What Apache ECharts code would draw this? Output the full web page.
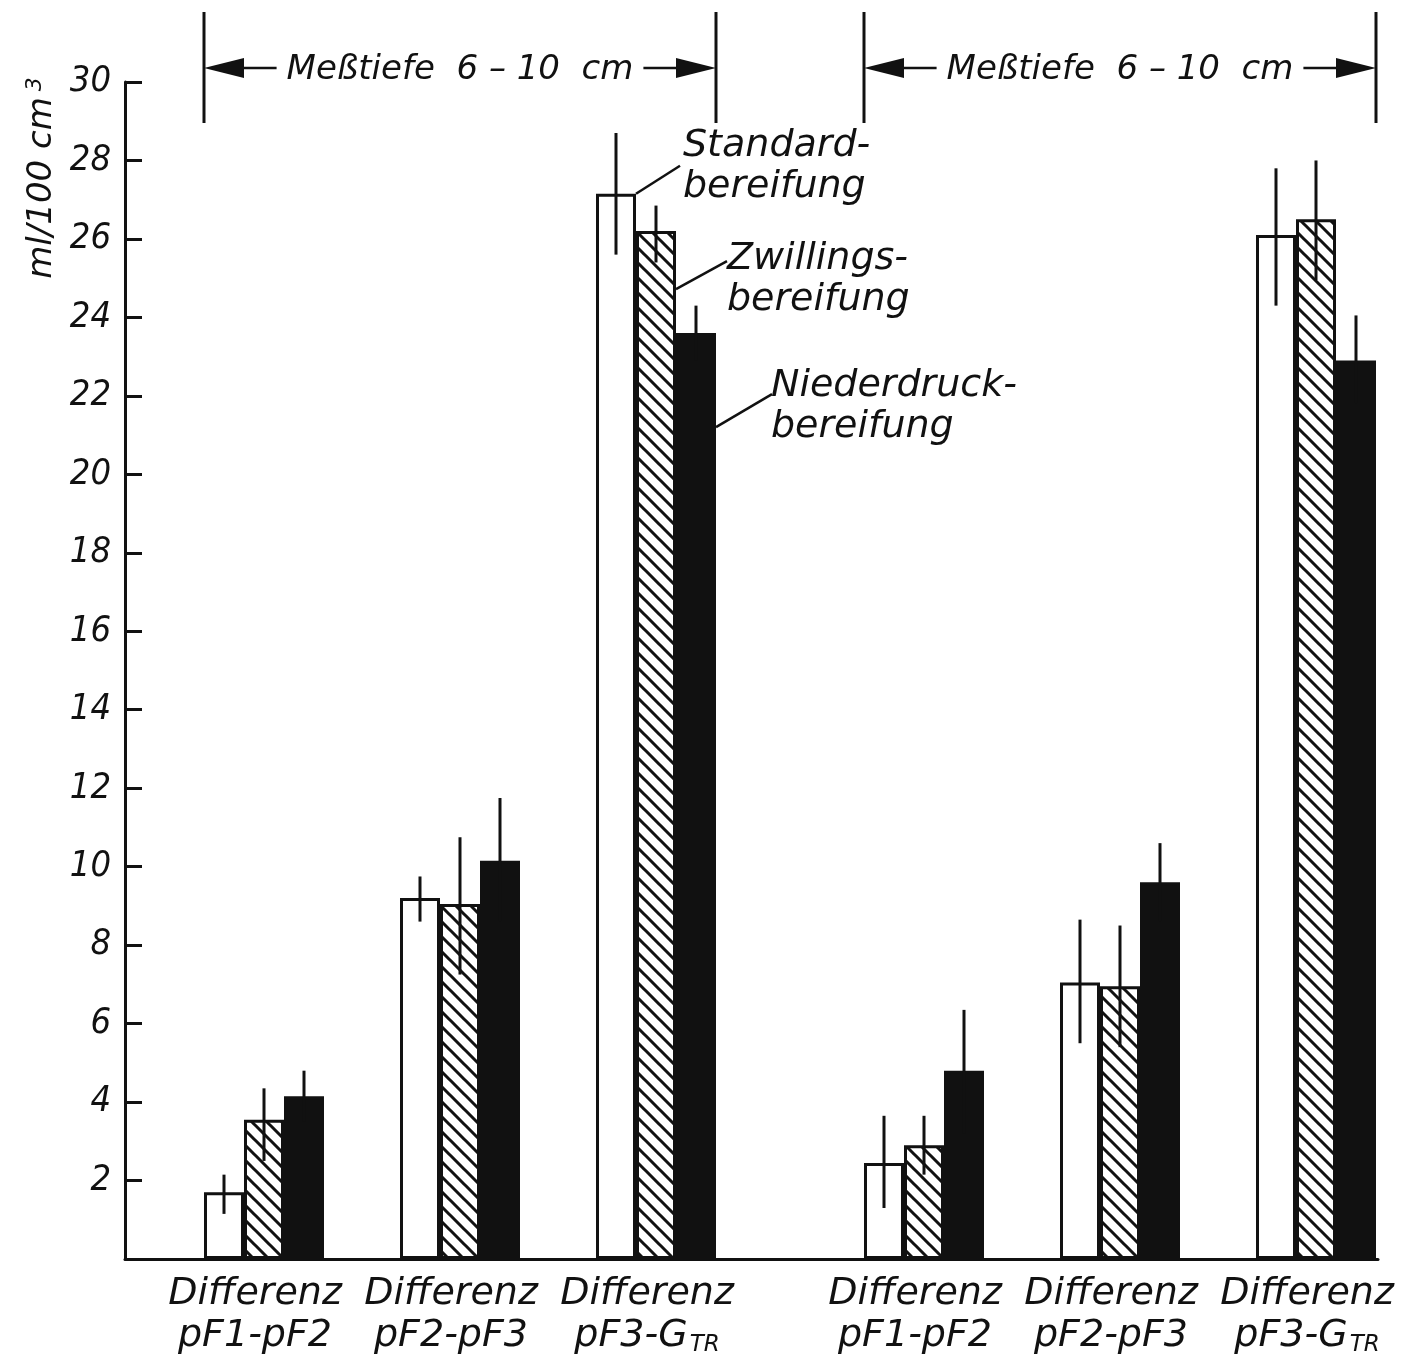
<!DOCTYPE html>
<html><head><meta charset="utf-8">
<script src="https://cdn.jsdelivr.net/npm/echarts@6/dist/echarts.min.js"></script>
<style>html,body{margin:0;padding:0;background:#fff}#c{width:1426px;height:1367px}</style>
</head><body><div id="c"></div>
<script>
// ---------- data ----------
const categories = ['Differenz\npF1-pF2', 'Differenz\npF2-pF3', 'Differenz\n{a|pF3-G}{s|TR}'];
const seriesNames = ['Standardbereifung', 'Zwillingsbereifung', 'Niederdruckbereifung'];
const panelTitle = 'Meßtiefe  6 – 10  cm';
const yAxisName = 'ml/100 cm{s|3}';
const legendLabels = ['Standard-\nbereifung', 'Zwillings-\nbereifung', 'Niederdruck-\nbereifung'];
const yMin = 0, yMax = 30, yStep = 2;

// left panel (mean values)
const leftStandard = [1.7, 9.2, 27.15];
const leftZwillings = [3.55, 9.05, 26.2];
const leftNiederdruck = [4.15, 10.15, 23.6];
// left panel error ranges [low, high]
const leftStandardErr = [[1.15, 2.15], [8.6, 9.75], [25.6, 28.7]];
const leftZwillingsErr = [[2.5, 4.35], [7.25, 10.75], [25.4, 26.85]];
const leftNiederdruckErr = [[3.5, 4.8], [8.6, 11.75], [22.9, 24.3]];

// right panel (mean values)
const rightStandard = [2.45, 7.05, 26.1];
const rightZwillings = [2.9, 6.95, 26.5];
const rightNiederdruck = [4.8, 9.6, 22.9];
// right panel error ranges [low, high]
const rightStandardErr = [[1.3, 3.65], [5.5, 8.65], [24.3, 27.8]];
const rightZwillingsErr = [[2.15, 3.65], [5.4, 8.5], [24.95, 28.0]];
const rightNiederdruckErr = [[3.2, 6.35], [8.6, 10.6], [21.8, 24.05]];

// ---------- style ----------
const INK = '#111';
const FONT = "'DejaVu Sans', 'Liberation Sans', sans-serif";
const FONT_C = "'DejaVu Sans Condensed', 'DejaVu Sans', sans-serif";
const BAR_W = 40;

function hatchCanvas() {
  const s = 15;
  const c = document.createElement('canvas');
  c.width = s; c.height = s;
  const g = c.getContext('2d');
  g.fillStyle = '#fff'; g.fillRect(0, 0, s, s);
  g.strokeStyle = INK; g.lineWidth = 3;
  g.beginPath();
  for (let k = -1; k <= 1; k++) {
    g.moveTo(-2, -2 + k * s); g.lineTo(s + 2, s + 2 + k * s);
  }
  g.stroke();
  return c;
}
const hatch = hatchCanvas();

const barStyles = [
  { color: '#fff', borderColor: INK, borderWidth: 3 },
  { color: { image: hatch, repeat: 'repeat' }, borderColor: INK, borderWidth: 3 },
  { color: INK, borderColor: INK, borderWidth: 3 }
];

function barSeries(name, data, gridIdx, k) {
  return {
    type: 'bar', name, data, xAxisIndex: gridIdx, yAxisIndex: gridIdx,
    barWidth: BAR_W, barGap: '0%', itemStyle: barStyles[k], z: 2, silent: true
  };
}
function errData(errs) {
  const out = [];
  errs.forEach((e, k) => e.forEach((r, i) => out.push([i, k, r[0], r[1]])));
  return out;
}
function errSeries(errs, gridIdx) {
  return {
    type: 'custom', xAxisIndex: gridIdx, yAxisIndex: gridIdx, z: 5, silent: true,
    data: errData(errs),
    encode: { x: 0, y: [2, 3] },
    renderItem(params, api) {
      const cat = api.value(0), k = api.value(1);
      const lo = api.coord([cat, api.value(2)]);
      const hi = api.coord([cat, api.value(3)]);
      const x = lo[0] + (k - 1) * BAR_W;
      return { type: 'line', shape: { x1: x, y1: lo[1], x2: x, y2: hi[1] },
               style: { stroke: INK, lineWidth: 3 } };
    }
  };
}

const catLabel = {
  interval: 0, color: INK, fontFamily: FONT, fontStyle: 'italic', fontSize: 38,
  lineHeight: 42, margin: 14, padding: [0, 18, 0, 0],
  rich: {
    a: { color: INK, fontFamily: FONT, fontStyle: 'italic', fontSize: 38, lineHeight: 42 },
    s: { color: INK, fontFamily: FONT, fontStyle: 'italic', fontSize: 23, lineHeight: 22,
         verticalAlign: 'bottom', padding: [0, 0, 0, 2] }
  }
};
function catAxis(gridIdx) {
  return { type: 'category', gridIndex: gridIdx, data: categories,
    axisLine: { show: false }, axisTick: { show: false }, axisLabel: catLabel,
    splitLine: { show: false } };
}
function hiddenY(gridIdx) {
  return { type: 'value', gridIndex: gridIdx, min: yMin, max: yMax, interval: yStep, show: false };
}

const chart = echarts.init(document.getElementById('c'), null, { renderer: 'canvas' });
chart.setOption({
  backgroundColor: '#fff',
  animation: false,
  grid: [
    { left: 166, top: 82, width: 588, bottom: 108 },
    { left: 826, top: 82, width: 588, bottom: 108 },
    { left: 125, top: 82, right: 48, bottom: 108 }
  ],
  xAxis: [
    catAxis(0), catAxis(1),
    { type: 'value', gridIndex: 2, min: 0, max: 1,
      axisLine: { show: true, lineStyle: { color: INK, width: 3 } },
      axisTick: { show: false }, axisLabel: { show: false }, splitLine: { show: false } }
  ],
  yAxis: [
    hiddenY(0), hiddenY(1),
    { type: 'value', gridIndex: 2, min: yMin, max: yMax, interval: yStep,
      axisLine: { show: true, lineStyle: { color: INK, width: 3 } },
      axisTick: { show: true, inside: true, length: 17, lineStyle: { color: INK, width: 3 } },
      splitLine: { show: false },
      axisLabel: { color: INK, fontFamily: FONT_C, fontStyle: 'italic', fontSize: 36, margin: 14,
        formatter: v => (v === 0 ? '' : String(v)) } }
  ],
  series: [
    barSeries(seriesNames[0], leftStandard, 0, 0),
    barSeries(seriesNames[1], leftZwillings, 0, 1),
    barSeries(seriesNames[2], leftNiederdruck, 0, 2),
    errSeries([leftStandardErr, leftZwillingsErr, leftNiederdruckErr], 0),
    barSeries(seriesNames[0], rightStandard, 1, 0),
    barSeries(seriesNames[1], rightZwillings, 1, 1),
    barSeries(seriesNames[2], rightNiederdruck, 1, 2),
    errSeries([rightStandardErr, rightZwillingsErr, rightNiederdruckErr], 1)
  ]
});

// ---------- annotations (anchored to axis scales) ----------
function measure(text, font) {
  const g = document.createElement('canvas').getContext('2d');
  g.font = font; return g.measureText(text).width;
}
const titleFont = 'italic 34px ' + FONT;
const titleW = measure(panelTitle, titleFont);
const graphics = [];
const Y_ARROW = 68, Y_TOP = 12, Y_BOT = 123;
[0, 1].forEach(gi => {
  const c0 = chart.convertToPixel({ xAxisIndex: gi }, 0);
  const c2 = chart.convertToPixel({ xAxisIndex: gi }, 2);
  const x0 = c0 - 1.5 * BAR_W, x1 = c2 + 1.5 * BAR_W;
  const mid = (x0 + x1) / 2;
  const tl = mid - titleW / 2 - 10, tr = mid + titleW / 2 + 10;
  graphics.push(
    { type: 'line', shape: { x1: x0, y1: Y_TOP, x2: x0, y2: Y_BOT }, style: { stroke: INK, lineWidth: 3 } },
    { type: 'line', shape: { x1: x1, y1: Y_TOP, x2: x1, y2: Y_BOT }, style: { stroke: INK, lineWidth: 3 } },
    { type: 'polygon', shape: { points: [[x0, Y_ARROW], [x0 + 40, Y_ARROW - 10], [x0 + 40, Y_ARROW + 10]] }, style: { fill: INK } },
    { type: 'polygon', shape: { points: [[x1, Y_ARROW], [x1 - 40, Y_ARROW - 10], [x1 - 40, Y_ARROW + 10]] }, style: { fill: INK } },
    { type: 'line', shape: { x1: x0 + 38, y1: Y_ARROW, x2: tl, y2: Y_ARROW }, style: { stroke: INK, lineWidth: 2.5 } },
    { type: 'line', shape: { x1: tr, y1: Y_ARROW, x2: x1 - 38, y2: Y_ARROW }, style: { stroke: INK, lineWidth: 2.5 } },
    { type: 'text', x: mid, y: Y_ARROW + 2, style: { text: panelTitle, font: titleFont, fill: INK, align: 'center', verticalAlign: 'middle' } }
  );
});
// legend labels with leader lines to the bars of the third left group
const cx = chart.convertToPixel({ xAxisIndex: 0 }, 2);
const legVals = [leftStandard[2], leftZwillings[2], leftNiederdruck[2]];
const legendOffsets = [ // [leader start dy from bar top, leader end dx, leader end dy, text dx, text dy]
  [0, 44, -28, 47, -68],
  [58, 51, 30, 51, 8],
  [94, 56, 61, 55, 33]
];
legVals.forEach((v, k) => {
  const right = cx + (k - 0.5) * BAR_W;
  const top = chart.convertToPixel({ yAxisIndex: 0 }, v);
  const o = legendOffsets[k];
  const ys = top + o[0];
  graphics.push(
    { type: 'line', shape: { x1: right, y1: ys, x2: right + o[1], y2: ys + o[2] - o[0] }, style: { stroke: INK, lineWidth: 2.5 } },
    { type: 'text', x: right + o[3], y: top + o[4], style: { text: legendLabels[k], font: 'italic 38px ' + FONT, fill: INK, align: 'left', verticalAlign: 'top', lineHeight: 41 } }
  );
});
// y axis name
graphics.push({
  type: 'text', x: 42, y: 178, rotation: Math.PI / 2,
  style: { text: yAxisName, fontFamily: FONT, fontStyle: 'italic', fontSize: 34, fill: INK,
    align: 'center', verticalAlign: 'middle',
    rich: { s: { fontFamily: FONT, fontStyle: 'italic', fontSize: 22, fill: INK, verticalAlign: 'top', padding: [0, 0, 14, 6] } } }
});
chart.setOption({ graphic: graphics });
</script>
</body></html>
